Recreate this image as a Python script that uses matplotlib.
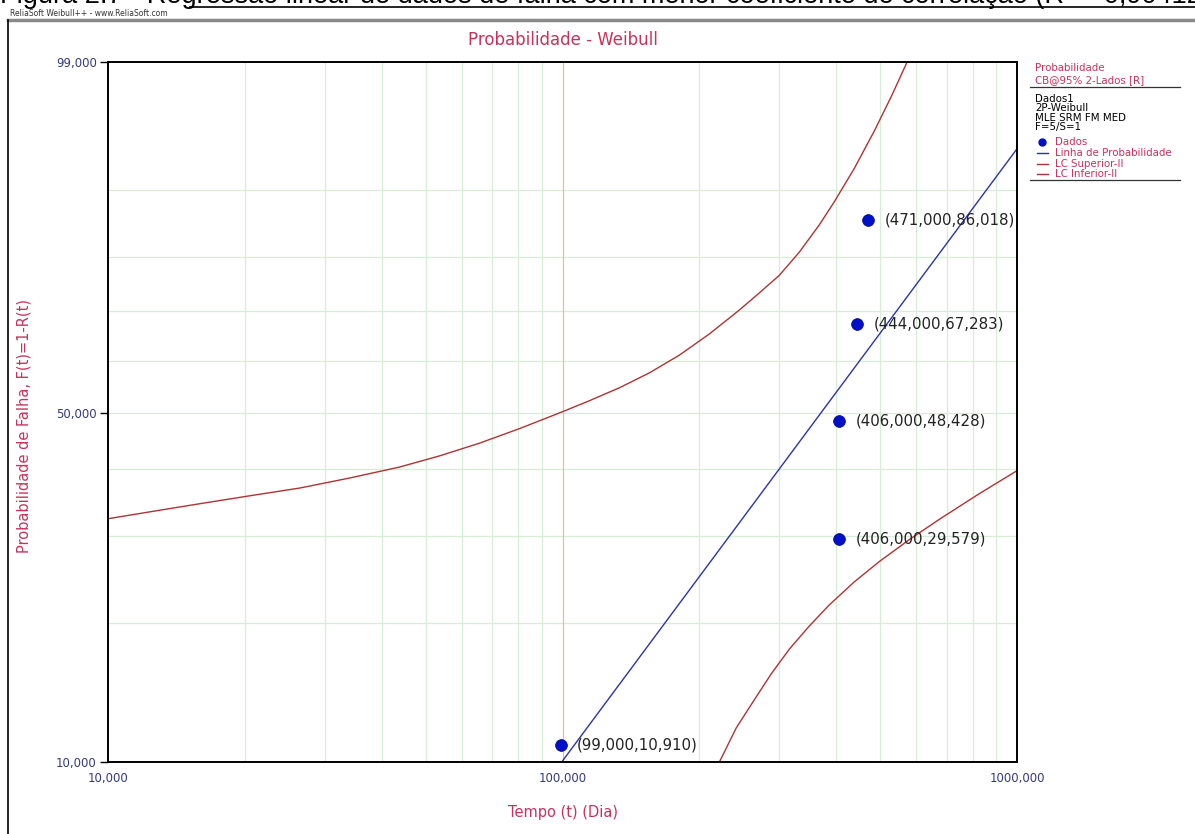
import numpy as np
import matplotlib
matplotlib.use('Agg')
import matplotlib.pyplot as plt
from matplotlib.lines import Line2D
from matplotlib.ticker import FixedLocator, NullFormatter

# dados de falha (tempo em dias, F em %)
tempo = [99.0, 406.0, 406.0, 444.0, 471.0]
falha = [10.910, 29.579, 48.428, 67.283, 86.018]
rotulos = ['(99,000,10,910)', '(406,000,29,579)', '(406,000,48,428)',
           '(444,000,67,283)', '(471,000,86,018)']

# linha de probabilidade (extremos)
linha_t = [99.6, 1000.0]
linha_f = [10.0, 94.4]

# limites de confiança (superior e inferior)
sup_t = [10.0, 12.37, 15.93, 20.5, 26.4, 34.0, 43.8, 53.7, 65.7, 80.4, 98.5, 114.6, 133.5,
         155.3, 180.8, 210.4, 244.9, 271.0, 300.0, 331.9, 367.1, 396.0, 438.3, 485.1, 528.6, 573.1]
sup_f = [32.4, 33.4, 34.6, 35.8, 37.0, 38.6, 40.4, 42.3, 44.5, 47.1, 50.0, 52.3, 54.8,
         57.7, 61.2, 65.4, 70.1, 73.4, 76.7, 80.8, 85.2, 88.5, 92.5, 95.8, 97.8, 99.0]
inf_t = [221.4, 241.2, 264.2, 288.0, 315.4, 349.1, 386.3, 438.3, 497.5, 578.9, 674.1, 825.0, 1000.0]
inf_f = [10.0, 11.9, 13.7, 15.6, 17.6, 19.7, 21.8, 24.3, 26.7, 29.5, 32.3, 36.1, 39.8]

x_ticks = [10, 100, 1000]
x_labels = ['10,000', '100,000', '1000,000']
y_ticks = [10, 50, 99]
y_labels = ['10,000', '50,000', '99,000']
y_grid = [20, 30, 40, 60, 70, 80, 90]
x_grid = [20, 30, 40, 50, 60, 70, 80, 90, 200, 300, 400, 500, 600, 700, 800, 900]

vermelho = '#C8325A'
azul_txt = '#353A7C'


def weib(f):
    f = np.clip(np.asarray(f, dtype=float), 1e-6, 100 - 1e-6)
    return np.log(-np.log(1 - f / 100.0))


def weib_inv(w):
    return 100.0 * (1 - np.exp(-np.exp(np.asarray(w, dtype=float))))


fig = plt.figure(figsize=(11.95, 8.34), dpi=100)
W, H = 1195, 834

# moldura e cabeçalho
fig.text(0, 1 - 3 / H,
         'Figura 2.7 - Regressão linear de dados de falha com menor coeficiente de correlação (R² = 0,904123)',
         fontsize=19.5, family='Liberation Sans', va='baseline', ha='left', color='black')
fig.add_artist(Line2D([190 / W, 1], [1 - 7 / H, 1 - 7 / H], color='black', lw=1.2))
fig.text(10 / W, 1 - 13 / H, 'ReliaSoft Weibull++ - www.ReliaSoft.com', fontsize=5.5,
         color='#333333', va='center')
fig.add_artist(Line2D([8 / W, 1], [1 - 19.5 / H, 1 - 19.5 / H], color='#8a8a8a', lw=2.5))
fig.add_artist(Line2D([8 / W, 8 / W], [0, 1 - 19.5 / H], color='black', lw=1.2))

ax = fig.add_axes([108 / W, 72 / H, 909 / W, 700 / H])
ax.set_xscale('log')
ax.set_yscale('function', functions=(weib, weib_inv))
ax.set_xlim(10, 1000)
ax.set_ylim(10, 99)

# grade
for g in x_grid:
    ax.axvline(g, color='#D6EED6', lw=0.9, zorder=0)
for g in y_grid:
    ax.axhline(g, color='#D6EED6', lw=0.9, zorder=0)
ax.axhline(50, color='#DDE8DD', lw=0.9, zorder=0)
ax.axvline(100, color='#E8B8AC', lw=0.9, zorder=0)

ax.plot(sup_t, sup_f, color='#B03232', lw=1.0)
ax.plot(inf_t, inf_f, color='#B03232', lw=1.0)
ax.plot(linha_t, linha_f, color='#2A34A8', lw=1.0)
ax.plot(tempo, falha, 'o', color='#0010C8', markersize=8.5, markeredgecolor='#000a80',
        markeredgewidth=0.5, zorder=5)

for t, f, r in zip(tempo, falha, rotulos):
    ax.annotate(r, (t, f), xytext=(12, 0), textcoords='offset points', va='center',
                fontsize=10.8, color='#222222')

ax.xaxis.set_major_locator(FixedLocator(x_ticks))
ax.set_xticklabels(x_labels)
ax.xaxis.set_minor_locator(FixedLocator([]))
ax.xaxis.set_minor_formatter(NullFormatter())
ax.yaxis.set_major_locator(FixedLocator(y_ticks))
ax.set_yticklabels(y_labels)
ax.yaxis.set_minor_locator(FixedLocator([]))
ax.yaxis.set_minor_formatter(NullFormatter())
ax.tick_params(axis='x', length=0, pad=7, labelsize=8.5, labelcolor=azul_txt)
ax.tick_params(axis='y', length=6, width=1, pad=2, labelsize=8.5, labelcolor=azul_txt)
for s in ax.spines.values():
    s.set_linewidth(1.4)

ax.set_title('Probabilidade - Weibull', color=vermelho, fontsize=12, pad=12)
ax.set_xlabel('Tempo (t) (Dia)', color=vermelho, fontsize=10.5)
ax.set_ylabel('Probabilidade de Falha, F(t)=1-R(t)', color=vermelho, fontsize=10.5)
ax.xaxis.set_label_coords(0.5, -43 / 700)
ax.yaxis.set_label_coords(-76 / 909, 0.48)

# legenda lateral
lx = 1035 / W
fs = 7.4
fig.text(lx, 1 - 68 / H, 'Probabilidade', fontsize=fs, color=vermelho, va='center')
fig.text(lx, 1 - 80 / H, 'CB@95% 2-Lados [R]', fontsize=fs, color=vermelho, va='center')
fig.add_artist(Line2D([1030 / W, 1180 / W], [1 - 87 / H, 1 - 87 / H], color='#333333', lw=0.9))
linhas = [('Dados1', 99), ('2P-Weibull', 108), ('MLE SRM FM MED', 118), ('F=5/S=1', 127)]
for txt, yy in linhas:
    fig.text(lx, 1 - yy / H, txt, fontsize=fs, color='black', va='center')
itens = [('Dados', 142, '#0010C8', 'o'), ('Linha de Probabilidade', 153, '#2A34A8', '-'),
         ('LC Superior-II', 164, '#B03232', '-'), ('LC Inferior-II', 174, '#B03232', '-')]
for txt, yy, cor, m in itens:
    yf = 1 - yy / H
    if m == 'o':
        fig.add_artist(Line2D([1042 / W], [yf], marker='o', color=cor, markersize=5, lw=0))
    else:
        fig.add_artist(Line2D([1037 / W, 1048 / W], [yf, yf], color=cor, lw=1))
    fig.text(1055 / W, yf, txt, fontsize=fs, color=vermelho, va='center')
fig.add_artist(Line2D([1030 / W, 1180 / W], [1 - 180 / H, 1 - 180 / H], color='#333333', lw=0.9))

plt.savefig('out.png', dpi=100)
